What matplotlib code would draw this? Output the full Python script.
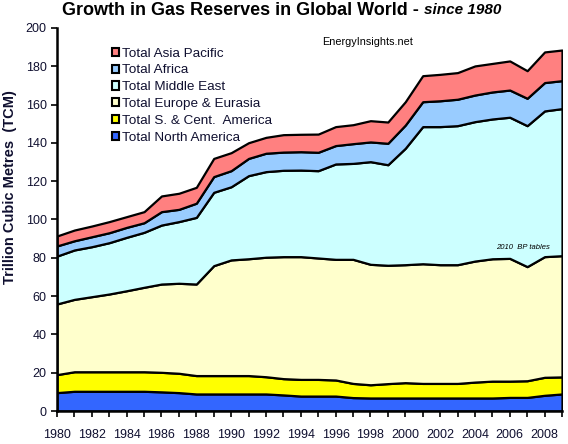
import matplotlib
matplotlib.use("Agg")
import matplotlib.pyplot as plt
import numpy as np

years = list(range(1980, 2010))
north_america = [9.6, 10.3, 10.3, 10.3, 10.3, 10.3, 10.0, 9.6, 8.9, 8.9, 8.9, 8.9, 8.9, 8.4, 7.8,
                 7.8, 7.8, 7.0, 6.8, 6.8, 6.8, 6.8, 6.8, 6.8, 6.8, 6.8, 7.1, 7.1, 8.2, 8.9]
sc_america = [9.4, 10.2, 10.2, 10.2, 10.2, 10.2, 10.2, 10.1, 9.6, 9.6, 9.6, 9.6, 9.0, 8.5, 8.7,
              8.7, 8.4, 7.4, 6.9, 7.5, 8.0, 7.6, 7.6, 7.6, 8.3, 8.8, 8.5, 8.7, 9.4, 8.9]
europe_eurasia = [36.9, 37.8, 39.2, 40.6, 42.3, 44.1, 46.1, 47.0, 47.8, 57.4, 60.4, 61.0, 62.4, 63.7, 64.1,
                  63.4, 63.0, 64.8, 62.9, 61.8, 61.6, 62.5, 62.0, 62.0, 63.2, 63.9, 64.1, 59.6, 63.0, 63.3]
middle_east = [25.0, 25.8, 26.1, 26.8, 27.9, 28.7, 30.8, 32.2, 34.8, 38.3, 38.2, 43.4, 44.7, 45.1, 45.2,
               45.6, 49.8, 50.1, 53.6, 52.5, 60.8, 71.6, 72.1, 72.6, 72.8, 73.0, 73.7, 73.6, 76.1, 76.8]
africa = [5.3, 4.8, 5.2, 5.2, 5.2, 5.0, 7.0, 6.4, 7.4, 8.2, 8.4, 9.0, 9.6, 9.5, 9.6,
          9.6, 9.6, 10.3, 10.3, 11.2, 12.1, 13.0, 13.5, 13.8, 13.9, 14.1, 14.2, 14.3, 14.8, 14.6]
asia_pacific = [5.2, 5.6, 5.6, 5.8, 5.6, 5.8, 8.2, 8.4, 8.3, 9.5, 9.4, 8.2, 8.3, 9.1, 9.1,
                9.5, 9.9, 9.9, 11.1, 11.1, 12.2, 13.6, 13.8, 13.9, 15.2, 14.9, 15.2, 14.4, 16.0, 16.0]

series_names = ["Total North America", "Total S. & Cent.  America", "Total Europe & Eurasia",
                "Total Middle East", "Total Africa", "Total Asia Pacific"]
series_values = [north_america, sc_america, europe_eurasia, middle_east, africa, asia_pacific]
colors = ["#3366FF", "#FFFF00", "#FFFFCC", "#CCFFFF", "#99CCFF", "#FF8080"]

plt.rcParams['font.family'] = ['Liberation Sans', 'DejaVu Sans']
txt_color = "#101030"

fig = plt.figure(figsize=(5.68, 4.44), dpi=100)
ax = fig.add_axes([57/568, 33/444, 505/568, 383/444])

x = np.array(years)
base = np.zeros(len(years))
handles = []
for name, vals, c in zip(series_names, series_values, colors):
    top = base + np.array(vals)
    h = ax.fill_between(x, base, top, facecolor=c, edgecolor="black", linewidth=1.6, label=name)
    handles.append(h)
    base = top

ax.set_xlim(1980, 2009)
ax.set_ylim(0, 200)
ax.set_yticks(range(0, 201, 20))
ax.set_xticks(years)
ax.set_xticklabels([str(y) if y % 2 == 0 else "" for y in years])
for s in ["top", "right"]:
    ax.spines[s].set_visible(False)
for s in ["left", "bottom"]:
    ax.spines[s].set_linewidth(1.8)
ax.tick_params(axis="both", direction="out", length=4, width=1.2, labelsize=9, colors="black",
               labelcolor=txt_color)
ax.tick_params(axis="x", pad=9)

ax.set_ylabel("Trillion Cubic Metres  (TCM)", fontsize=10.5, fontweight="bold", color=txt_color,
              va="center")
ax.yaxis.set_label_coords(-0.093, 0.585)

fig.text(0.746, 0.977, "Growth in Gas Reserves in Global World - ", ha="right", va="center",
         fontsize=13, fontweight="bold", color="black")
fig.text(0.746, 0.977, "since 1980", ha="left", va="center",
         fontsize=11, fontweight="bold", fontstyle="italic", color="black")

ax.text(0.525, 0.963, "EnergyInsights.net", transform=ax.transAxes, fontsize=7.8, ha="left", va="center",
        color="black")
ax.text(0.87, 0.428, "2010  BP tables", transform=ax.transAxes, fontsize=5.5, ha="left", va="center",
        fontstyle="italic", color="black")

leg = ax.legend(handles[::-1], series_names[::-1], loc="upper left", bbox_to_anchor=(0.098, 0.963),
                frameon=False, fontsize=9.7, handlelength=0.55, handleheight=0.55, handletextpad=0.2,
                labelspacing=0.36, borderaxespad=0)
for t in leg.get_texts():
    t.set_color(txt_color)
for p in leg.get_patches():
    p.set_linewidth(1.5)

fig.savefig("out.png", dpi=100)
